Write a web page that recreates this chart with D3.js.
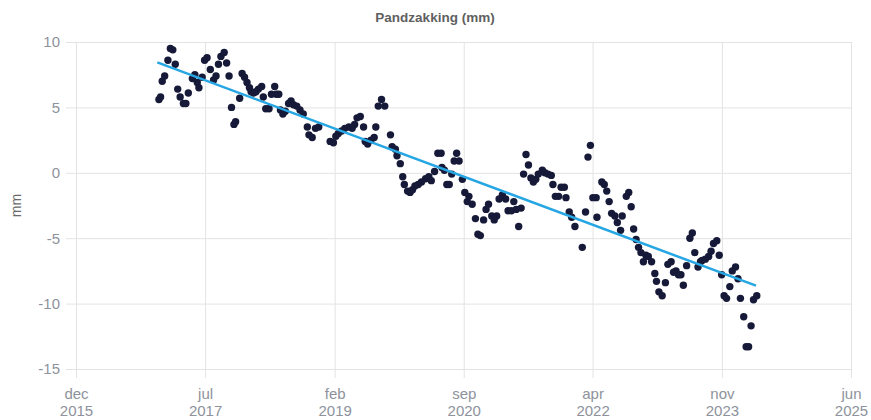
<!DOCTYPE html>
<html>
<head>
<meta charset="utf-8">
<script src="https://cdn.jsdelivr.net/npm/d3@7"></script>
<style>
  body { margin: 0; background: #fff; }
  svg { font-family: "Liberation Sans", Arial, sans-serif; }
</style>
</head>
<body>
<svg id="chart" width="871" height="420"></svg>
<script>
// measurement moments, as decimal years
var years = [
  2016.93, 2016.95, 2016.97, 2017.00, 2017.04, 2017.07, 2017.10, 2017.13, 2017.16, 2017.19,
  2017.23, 2017.26, 2017.29, 2017.34, 2017.37, 2017.40, 2017.42, 2017.46, 2017.49, 2017.52,
  2017.56, 2017.60, 2017.63, 2017.66, 2017.69, 2017.73, 2017.76, 2017.79, 2017.82, 2017.85,
  2017.87, 2017.92, 2017.95, 2017.98, 2018.01, 2018.04, 2018.06, 2018.09, 2018.12, 2018.15,
  2018.19, 2018.21, 2018.24, 2018.28, 2018.31, 2018.35, 2018.37, 2018.40, 2018.42, 2018.45,
  2018.48, 2018.52, 2018.55, 2018.58, 2018.62, 2018.66, 2018.70, 2018.75, 2018.77, 2018.81,
  2018.85, 2018.89, 2019.03, 2019.07, 2019.10, 2019.13, 2019.17, 2019.21, 2019.26, 2019.30,
  2019.33, 2019.36, 2019.40, 2019.44, 2019.46, 2019.49, 2019.53, 2019.57, 2019.59, 2019.62,
  2019.66, 2019.70, 2019.77, 2019.79, 2019.83, 2019.85, 2019.89, 2019.92, 2019.94, 2019.98,
  2020.01, 2020.04, 2020.07, 2020.11, 2020.15, 2020.20, 2020.24, 2020.27, 2020.31, 2020.35,
  2020.39, 2020.40, 2020.43, 2020.46, 2020.49, 2020.52, 2020.55, 2020.58, 2020.61, 2020.65,
  2020.68, 2020.71, 2020.73, 2020.77, 2020.81, 2020.84, 2020.87, 2020.91, 2020.94, 2020.97,
  2021.01, 2021.04, 2021.07, 2021.10, 2021.14, 2021.18, 2021.21, 2021.25, 2021.28, 2021.31,
  2021.34, 2021.37, 2021.40, 2021.43, 2021.46, 2021.49, 2021.52, 2021.55, 2021.58, 2021.63,
  2021.66, 2021.70, 2021.74, 2021.76, 2021.79, 2021.83, 2021.86, 2021.90, 2021.92, 2021.96,
  2021.99, 2022.03, 2022.12, 2022.16, 2022.19, 2022.22, 2022.25, 2022.29, 2022.30, 2022.36,
  2022.39, 2022.42, 2022.45, 2022.48, 2022.52, 2022.55, 2022.59, 2022.61, 2022.66, 2022.69,
  2022.72, 2022.75, 2022.78, 2022.81, 2022.84, 2022.87, 2022.90, 2022.93, 2022.97, 2023.01,
  2023.03, 2023.06, 2023.10, 2023.14, 2023.17, 2023.21, 2023.24, 2023.27, 2023.30, 2023.33,
  2023.36, 2023.40, 2023.44, 2023.47, 2023.50, 2023.54, 2023.57, 2023.59, 2023.63, 2023.67,
  2023.70, 2023.73, 2023.77, 2023.80, 2023.83, 2023.86, 2023.89, 2023.93, 2023.96, 2024.00,
  2024.03, 2024.06, 2024.10, 2024.13, 2024.16, 2024.19, 2024.22, 2024.26
];
// pandzakking in mm
var values = [
  5.6, 5.8, 7.0, 7.4, 8.6, 9.5, 9.4, 8.3, 6.4, 5.8,
  5.3, 5.3, 6.1, 7.2, 7.5, 6.9, 6.5, 7.3, 8.6, 8.8,
  7.9, 7.1, 7.4, 8.3, 8.9, 9.2, 8.4, 7.4, 5.0, 3.7,
  3.9, 5.7, 7.6, 7.3, 6.9, 6.5, 6.2, 6.1, 6.2, 6.4,
  6.6, 5.8, 4.9, 4.9, 6.0, 6.6, 6.0, 6.0, 4.8, 4.5,
  4.7, 5.3, 5.5, 5.2, 5.1, 4.8, 4.5, 3.5, 2.9, 2.7,
  3.4, 3.5, 2.4, 2.3, 2.8, 3.0, 3.2, 3.4, 3.5, 3.4,
  3.7, 4.2, 4.3, 3.5, 2.4, 2.2, 2.5, 2.7, 3.5, 5.1,
  5.6, 5.1, 2.9, 2.0, 1.8, 1.3, 0.7, -0.3, -0.9, -1.4,
  -1.5, -1.3, -1.0, -0.9, -0.7, -0.45, -0.3, -0.6, 0.1, 1.5,
  1.5, 0.4, 0.2, -0.9, -0.9, -0.1, 0.9, 1.5, 0.9, -0.5,
  -1.5, -2.2, -1.8, -2.4, -3.5, -4.7, -4.8, -3.6, -2.8, -2.4,
  -3.3, -3.6, -3.3, -2.0, -1.7, -2.0, -2.9, -2.9, -2.2, -2.8,
  -4.1, -2.7, -0.1, 1.4, 0.6, -0.4, -0.7, -0.5, -0.1, 0.2,
  0.0, -0.1, -0.2, -0.9, -1.8, -1.8, -1.1, -1.1, -1.9, -3.0,
  -3.4, -4.1, -5.7, -3.0, 1.2, 2.1, -1.9, -1.9, -3.4, -0.7,
  -0.9, -1.4, -2.2, -3.1, -3.3, -3.8, -4.4, -3.3, -1.8, -1.5,
  -2.6, -4.3, -5.1, -5.7, -6.1, -6.8, -6.3, -6.4, -6.8, -7.7,
  -8.3, -9.1, -9.4, -8.4, -7.0, -6.8, -7.6, -7.5, -7.8, -7.8,
  -8.6, -7.1, -5.0, -4.6, -6.1, -7.2, -6.8, -6.7, -6.6, -6.4,
  -6.0, -5.4, -5.2, -6.3, -7.8, -9.4, -9.6, -8.7, -7.5, -7.2,
  -8.1, -9.6, -11.0, -13.3, -13.3, -11.7, -9.7, -9.4
];
// trendline ends
var trendYears = [2016.91, 2024.25];
var trendValues = [8.44, -8.63];

var tickDates = ["2015-12-01", "2017-07-01", "2019-02-01", "2020-09-01", "2022-04-01", "2023-11-01", "2025-06-01"];
var tickMonths = ["dec", "jul", "feb", "sep", "apr", "nov", "jun"];
var tickYears = ["2015", "2017", "2019", "2020", "2022", "2023", "2025"];
var yTicks = [10, 5, 0, -5, -10, -15];

function toDate(t) {
  var y = Math.floor(t);
  var a = new Date(y, 0, 1), b = new Date(y + 1, 0, 1);
  return new Date(+a + (t - y) * (b - a));
}

var margin = {top: 42, left: 76},
    width = 775, height = 327;

var svg = d3.select("#chart");
var g = svg.append("g").attr("transform", "translate(" + margin.left + "," + margin.top + ")");

var x = d3.scaleTime()
  .domain([new Date(2015, 11, 1), new Date(2025, 5, 1)])
  .range([0, width]);
var y = d3.scaleLinear().domain([-15, 10]).range([height, 0]);

// y grid + labels (plain hyphen for negatives, like the original)
var yAxis = g.append("g")
  .attr("transform", "translate(-10,0)")
  .call(d3.axisLeft(y).tickValues(yTicks).tickSize(-(width + 10)).tickPadding(6)
    .tickFormat(function(d) { return String(d); }));
yAxis.select(".domain").remove();
yAxis.selectAll("line").attr("stroke", "#e3e3e3");
yAxis.selectAll("text").attr("fill", "#8d929c").style("font-size", "15px");

// x grid + labels
var parse = d3.timeParse("%Y-%m-%d");
var xAxis = g.append("g")
  .attr("transform", "translate(0," + (height + 9) + ")")
  .call(d3.axisBottom(x).tickValues(tickDates.map(parse)).tickSize(-(height + 9)).tickFormat(""));
xAxis.select(".domain").remove();
xAxis.selectAll("line").attr("stroke", "#e3e3e3");
xAxis.selectAll(".tick").each(function(d, i) {
  var t = d3.select(this).select("text").attr("dy", null).attr("y", null)
    .attr("fill", "#8d929c").style("font-size", "15px");
  t.append("tspan").attr("x", 0).attr("y", 21).text(tickMonths[i]);
  t.append("tspan").attr("x", 0).attr("y", 38).text(tickYears[i]);
});

// points
g.append("g").selectAll("circle")
  .data(years)
  .join("circle")
  .attr("cx", function(d) { return x(toDate(d)); })
  .attr("cy", function(d, i) { return y(values[i]); })
  .attr("r", 3.7)
  .attr("fill", "#161a38");

// trend
g.append("path")
  .datum(trendYears)
  .attr("d", d3.line()
    .x(function(d) { return x(toDate(d)); })
    .y(function(d, i) { return y(trendValues[i]); }))
  .attr("fill", "none")
  .attr("stroke", "#26a6e3")
  .attr("stroke-width", 2.5);

// title and axis label
svg.append("text")
  .attr("x", 435).attr("y", 22)
  .attr("text-anchor", "middle")
  .attr("fill", "#5f5f5f")
  .style("font-size", "13.5px").style("font-weight", "bold")
  .text("Pandzakking (mm)");

svg.append("text")
  .attr("transform", "translate(21," + (margin.top + height / 2) + ") rotate(-90)")
  .attr("text-anchor", "middle")
  .attr("fill", "#6a6a6a")
  .style("font-size", "14px")
  .text("mm");
</script>
</body>
</html>
